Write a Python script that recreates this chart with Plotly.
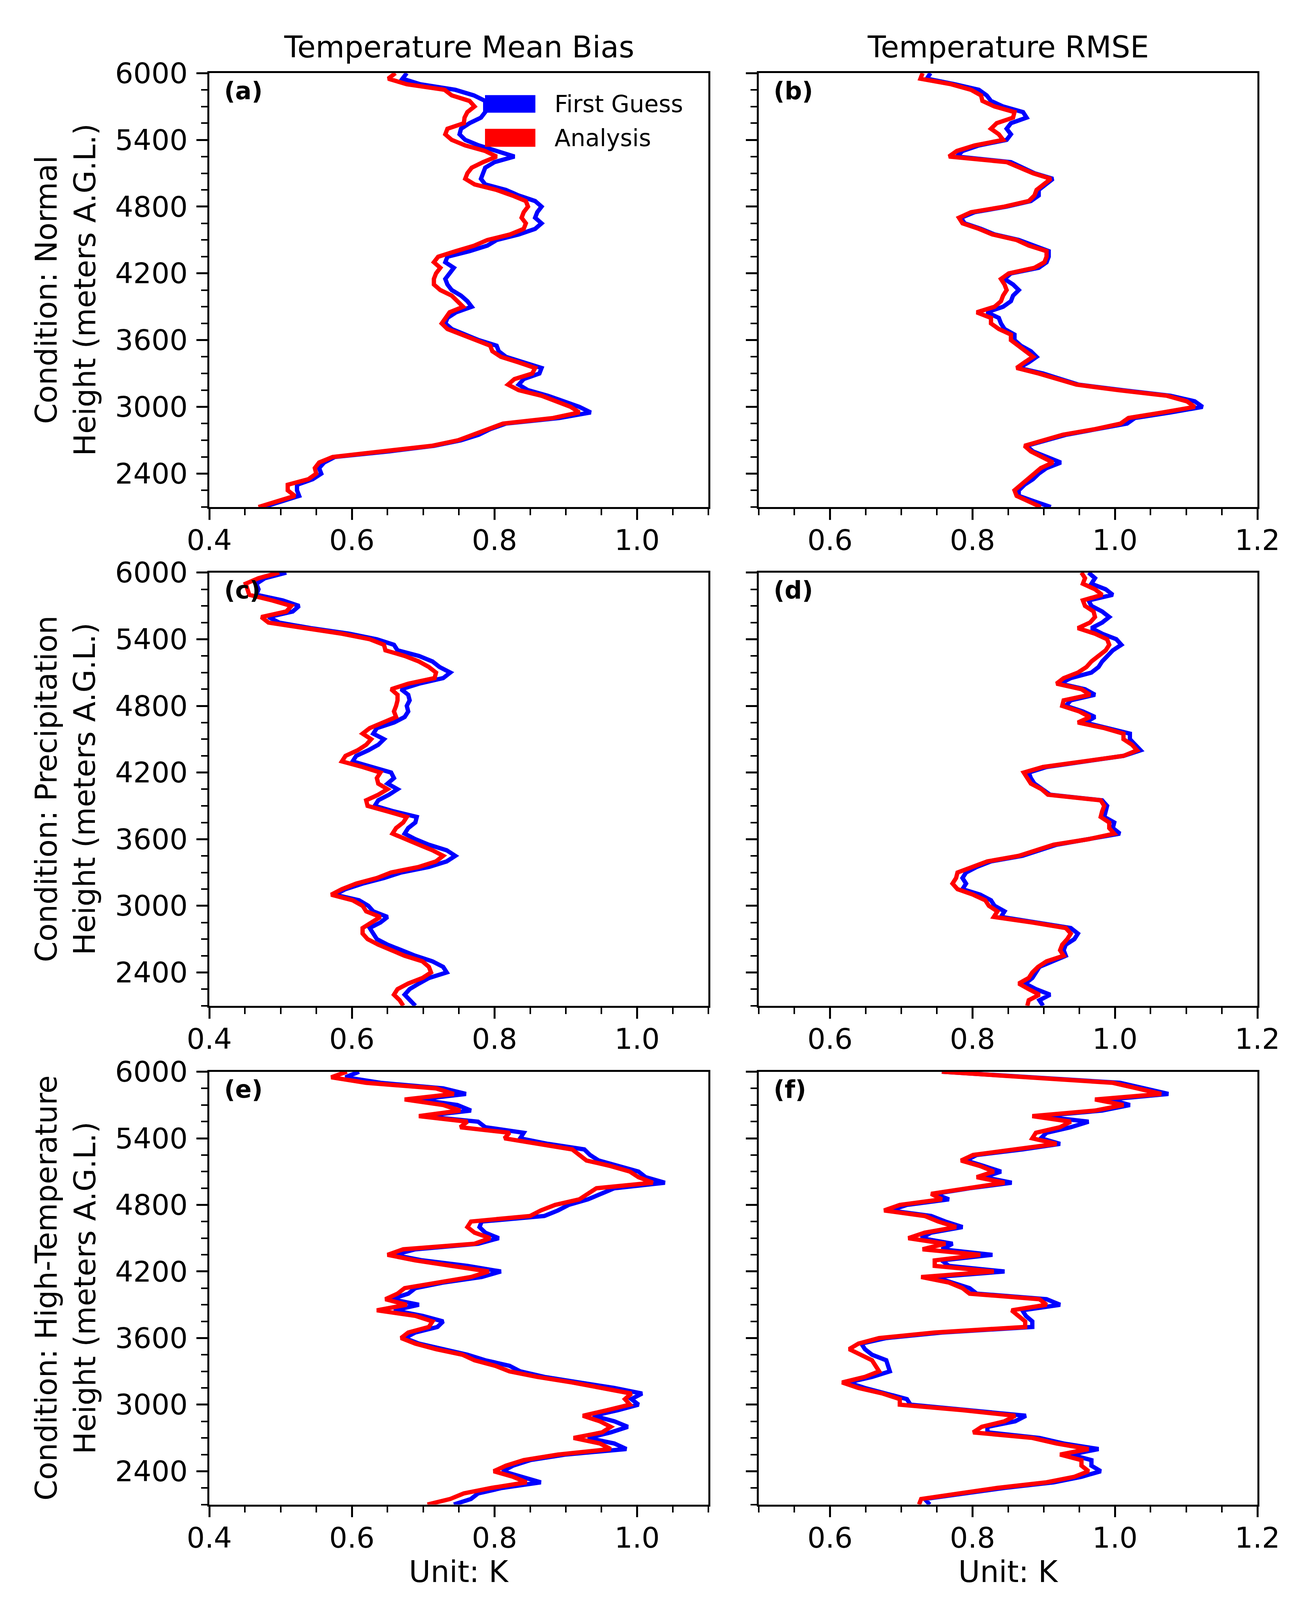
import plotly.graph_objects as go

# ---------------- data ----------------
HEIGHTS = [6000, 5950, 5900, 5850, 5800, 5750, 5700, 5650, 5600, 5550,
           5500, 5450, 5400, 5350, 5300, 5250, 5200, 5150, 5100, 5050,
           5000, 4950, 4900, 4850, 4800, 4750, 4700, 4650, 4600, 4550,
           4500, 4450, 4400, 4350, 4300, 4250, 4200, 4150, 4100, 4050,
           4000, 3950, 3900, 3850, 3800, 3750, 3700, 3650, 3600, 3550,
           3500, 3450, 3400, 3350, 3300, 3250, 3200, 3150, 3100, 3050,
           3000, 2950, 2900, 2850, 2800, 2750, 2700, 2650, 2600, 2550,
           2500, 2450, 2400, 2350, 2300, 2250, 2200, 2150, 2100]

# (a) Normal - mean bias
A_FG = [0.677, 0.671, 0.696, 0.745, 0.771, 0.787, 0.787, 0.787, 0.781, 0.765,
        0.753, 0.751, 0.759, 0.778, 0.803, 0.828, 0.800, 0.787, 0.784, 0.781,
        0.787, 0.816, 0.834, 0.857, 0.866, 0.860, 0.857, 0.866, 0.857, 0.834,
        0.803, 0.790, 0.765, 0.734, 0.731, 0.743, 0.737, 0.731, 0.734, 0.740,
        0.753, 0.762, 0.768, 0.746, 0.734, 0.731, 0.740, 0.759, 0.778, 0.803,
        0.806, 0.816, 0.841, 0.866, 0.863, 0.841, 0.834, 0.847, 0.875, 0.897,
        0.919, 0.935, 0.891, 0.816, 0.794, 0.778, 0.753, 0.715, 0.652, 0.576,
        0.561, 0.554, 0.557, 0.545, 0.523, 0.523, 0.526, 0.501, 0.476]
A_AN = [0.661, 0.651, 0.677, 0.730, 0.740, 0.765, 0.772, 0.762, 0.758, 0.757,
        0.734, 0.731, 0.740, 0.759, 0.787, 0.803, 0.784, 0.768, 0.762, 0.759,
        0.772, 0.803, 0.825, 0.844, 0.847, 0.841, 0.838, 0.844, 0.841, 0.822,
        0.790, 0.772, 0.746, 0.721, 0.715, 0.724, 0.718, 0.715, 0.715, 0.724,
        0.740, 0.749, 0.756, 0.737, 0.731, 0.726, 0.734, 0.753, 0.772, 0.794,
        0.797, 0.809, 0.834, 0.857, 0.853, 0.828, 0.819, 0.834, 0.866, 0.888,
        0.907, 0.919, 0.882, 0.812, 0.790, 0.772, 0.749, 0.712, 0.646, 0.573,
        0.554, 0.548, 0.550, 0.539, 0.510, 0.510, 0.520, 0.494, 0.469]

# (b) Normal - RMSE
B_FG = [0.741, 0.736, 0.775, 0.809, 0.820, 0.826, 0.843, 0.871, 0.876, 0.854,
        0.848, 0.854, 0.848, 0.809, 0.786, 0.778, 0.854, 0.871, 0.887, 0.913,
        0.904, 0.893, 0.893, 0.882, 0.848, 0.803, 0.784, 0.789, 0.812, 0.831,
        0.865, 0.885, 0.907, 0.907, 0.904, 0.893, 0.854, 0.845, 0.857, 0.865,
        0.857, 0.854, 0.843, 0.820, 0.837, 0.840, 0.845, 0.859, 0.859, 0.868,
        0.882, 0.890, 0.879, 0.865, 0.899, 0.924, 0.949, 1.011, 1.078, 1.112,
        1.123, 1.078, 1.028, 1.017, 0.977, 0.932, 0.904, 0.876, 0.885, 0.904,
        0.924, 0.904, 0.893, 0.885, 0.873, 0.865, 0.865, 0.887, 0.910]
B_AN = [0.730, 0.727, 0.770, 0.798, 0.812, 0.814, 0.831, 0.859, 0.857, 0.834,
        0.826, 0.837, 0.843, 0.803, 0.778, 0.767, 0.848, 0.865, 0.885, 0.910,
        0.899, 0.890, 0.887, 0.879, 0.845, 0.798, 0.781, 0.786, 0.809, 0.828,
        0.862, 0.879, 0.904, 0.904, 0.901, 0.887, 0.851, 0.840, 0.845, 0.848,
        0.843, 0.840, 0.831, 0.806, 0.826, 0.826, 0.837, 0.854, 0.854, 0.865,
        0.876, 0.885, 0.873, 0.862, 0.893, 0.918, 0.946, 1.005, 1.073, 1.101,
        1.112, 1.067, 1.019, 1.008, 0.972, 0.927, 0.899, 0.873, 0.882, 0.899,
        0.913, 0.896, 0.887, 0.879, 0.868, 0.859, 0.862, 0.879, 0.896]

# (c) Precipitation - mean bias
C_FG = [0.508, 0.478, 0.466, 0.469, 0.466, 0.503, 0.526, 0.517, 0.483, 0.498,
        0.542, 0.596, 0.635, 0.659, 0.664, 0.694, 0.713, 0.723, 0.738, 0.728,
        0.694, 0.669, 0.679, 0.681, 0.677, 0.679, 0.674, 0.659, 0.635, 0.630,
        0.645, 0.637, 0.623, 0.606, 0.601, 0.630, 0.655, 0.659, 0.650, 0.664,
        0.652, 0.637, 0.632, 0.659, 0.691, 0.689, 0.679, 0.674, 0.689, 0.708,
        0.733, 0.745, 0.733, 0.708, 0.669, 0.645, 0.615, 0.591, 0.576, 0.610,
        0.623, 0.630, 0.650, 0.640, 0.625, 0.630, 0.635, 0.650, 0.669, 0.689,
        0.713, 0.728, 0.733, 0.708, 0.694, 0.681, 0.674, 0.681, 0.689]
C_AN = [0.498, 0.469, 0.451, 0.454, 0.456, 0.488, 0.515, 0.508, 0.473, 0.483,
        0.532, 0.586, 0.625, 0.645, 0.647, 0.674, 0.694, 0.708, 0.718, 0.716,
        0.679, 0.655, 0.664, 0.664, 0.662, 0.659, 0.662, 0.645, 0.625, 0.615,
        0.627, 0.620, 0.608, 0.591, 0.586, 0.615, 0.640, 0.635, 0.637, 0.650,
        0.637, 0.620, 0.622, 0.650, 0.677, 0.672, 0.662, 0.657, 0.674, 0.694,
        0.713, 0.728, 0.718, 0.694, 0.655, 0.635, 0.606, 0.586, 0.571, 0.601,
        0.615, 0.620, 0.640, 0.627, 0.615, 0.615, 0.622, 0.637, 0.655, 0.674,
        0.699, 0.708, 0.711, 0.699, 0.679, 0.664, 0.659, 0.667, 0.672]

# (d) Precipitation - RMSE
D_FG = [0.963, 0.972, 0.967, 0.987, 0.997, 0.963, 0.967, 0.982, 0.992, 0.982,
        0.967, 0.982, 1.002, 1.009, 0.997, 0.989, 0.982, 0.977, 0.967, 0.938,
        0.923, 0.958, 0.972, 0.938, 0.931, 0.955, 0.972, 0.958, 0.992, 1.021,
        1.021, 1.029, 1.036, 1.012, 0.958, 0.904, 0.879, 0.882, 0.887, 0.899,
        0.909, 0.982, 0.989, 0.987, 0.985, 0.999, 0.997, 1.007, 0.963, 0.918,
        0.894, 0.870, 0.826, 0.806, 0.791, 0.786, 0.791, 0.786, 0.811, 0.826,
        0.831, 0.845, 0.840, 0.894, 0.938, 0.948, 0.943, 0.931, 0.928, 0.931,
        0.914, 0.894, 0.889, 0.884, 0.874, 0.889, 0.909, 0.894, 0.899]
D_AN = [0.953, 0.958, 0.955, 0.972, 0.982, 0.955, 0.958, 0.970, 0.972, 0.965,
        0.948, 0.972, 0.989, 0.992, 0.987, 0.977, 0.967, 0.960, 0.948, 0.928,
        0.918, 0.953, 0.965, 0.928, 0.926, 0.950, 0.965, 0.948, 0.985, 1.012,
        1.012, 1.024, 1.031, 1.012, 0.953, 0.899, 0.872, 0.877, 0.882, 0.897,
        0.906, 0.980, 0.985, 0.982, 0.980, 0.992, 0.992, 0.999, 0.963, 0.914,
        0.889, 0.865, 0.821, 0.801, 0.779, 0.777, 0.772, 0.779, 0.801, 0.818,
        0.823, 0.835, 0.830, 0.884, 0.931, 0.938, 0.933, 0.926, 0.923, 0.928,
        0.904, 0.892, 0.884, 0.879, 0.865, 0.879, 0.894, 0.879, 0.877]

# (e) High-Temperature - mean bias
E_FG = [0.610, 0.591, 0.640, 0.728, 0.760, 0.694, 0.748, 0.767, 0.699, 0.777,
        0.787, 0.841, 0.836, 0.875, 0.926, 0.934, 0.946, 0.973, 1.002, 1.012,
        1.039, 0.968, 0.948, 0.931, 0.904, 0.889, 0.870, 0.782, 0.779, 0.787,
        0.806, 0.777, 0.689, 0.659, 0.699, 0.762, 0.809, 0.782, 0.728, 0.689,
        0.679, 0.655, 0.694, 0.659, 0.699, 0.728, 0.720, 0.689, 0.674, 0.694,
        0.728, 0.762, 0.787, 0.821, 0.836, 0.870, 0.919, 0.968, 1.007, 0.992,
        1.002, 0.973, 0.938, 0.968, 0.987, 0.963, 0.931, 0.968, 0.985, 0.899,
        0.850, 0.826, 0.811, 0.838, 0.865, 0.811, 0.777, 0.767, 0.743]
E_AN = [0.593, 0.571, 0.620, 0.718, 0.743, 0.674, 0.728, 0.752, 0.694, 0.762,
        0.752, 0.821, 0.814, 0.865, 0.909, 0.919, 0.929, 0.963, 0.990, 1.002,
        1.022, 0.943, 0.931, 0.919, 0.885, 0.865, 0.850, 0.767, 0.762, 0.772,
        0.794, 0.772, 0.672, 0.650, 0.689, 0.743, 0.792, 0.767, 0.718, 0.674,
        0.664, 0.647, 0.677, 0.635, 0.689, 0.713, 0.708, 0.679, 0.669, 0.689,
        0.718, 0.755, 0.772, 0.801, 0.821, 0.860, 0.909, 0.953, 0.992, 0.983,
        0.990, 0.958, 0.924, 0.948, 0.963, 0.951, 0.911, 0.948, 0.963, 0.889,
        0.841, 0.816, 0.799, 0.826, 0.845, 0.796, 0.757, 0.738, 0.706]

# (f) High-Temperature - RMSE
F_FG = [0.757, 0.894, 1.007, 1.041, 1.075, 0.992, 1.021, 0.982, 0.894, 0.963,
        0.938, 0.904, 0.896, 0.923, 0.870, 0.806, 0.791, 0.816, 0.840, 0.816,
        0.855, 0.796, 0.747, 0.767, 0.708, 0.684, 0.742, 0.762, 0.786, 0.742,
        0.728, 0.772, 0.757, 0.828, 0.757, 0.767, 0.845, 0.747, 0.772, 0.796,
        0.806, 0.904, 0.923, 0.870, 0.875, 0.884, 0.884, 0.757, 0.679, 0.644,
        0.649, 0.659, 0.679, 0.681, 0.684, 0.659, 0.625, 0.649, 0.679, 0.708,
        0.713, 0.796, 0.875, 0.860, 0.821, 0.821, 0.894, 0.928, 0.977, 0.938,
        0.967, 0.967, 0.980, 0.953, 0.914, 0.845, 0.791, 0.733, 0.740]
F_AN = [0.757, 0.884, 0.997, 1.031, 1.065, 0.972, 1.012, 0.972, 0.884, 0.938,
        0.923, 0.889, 0.884, 0.918, 0.860, 0.801, 0.784, 0.811, 0.830, 0.806,
        0.845, 0.791, 0.742, 0.757, 0.698, 0.676, 0.733, 0.752, 0.777, 0.733,
        0.710, 0.762, 0.730, 0.811, 0.747, 0.747, 0.830, 0.728, 0.767, 0.786,
        0.796, 0.894, 0.904, 0.855, 0.865, 0.874, 0.874, 0.747, 0.669, 0.640,
        0.627, 0.644, 0.659, 0.664, 0.669, 0.649, 0.617, 0.640, 0.674, 0.698,
        0.698, 0.786, 0.860, 0.845, 0.813, 0.801, 0.884, 0.918, 0.963, 0.923,
        0.953, 0.953, 0.963, 0.943, 0.904, 0.835, 0.786, 0.728, 0.725]

SERIES_NAMES = ["First Guess", "Analysis"]
COLUMN_TITLES = ["Temperature Mean Bias", "Temperature RMSE"]
ROW_LABELS = ["Condition: Normal", "Condition: Precipitation", "Condition: High-Temperature"]
HEIGHT_LABEL = "Height (meters A.G.L.)"
UNIT_LABEL = "Unit: K"
PANEL_TAGS = ["(a)", "(b)", "(c)", "(d)", "(e)", "(f)"]

X_RANGES = [[0.4, 1.1], [0.5, 1.2]]
X_TICKS = [[0.4, 0.6, 0.8, 1.0], [0.6, 0.8, 1.0, 1.2]]
X_TICKTEXT = [["0.4", "0.6", "0.8", "1.0"], ["0.6", "0.8", "1.0", "1.2"]]
Y_RANGE = [2100, 6000]
Y_TICKS = [2400, 3000, 3600, 4200, 4800, 5400, 6000]
Y_TICKTEXT = ["2400", "3000", "3600", "4200", "4800", "5400", "6000"]

PANELS = [(A_FG, A_AN), (B_FG, B_AN), (C_FG, C_AN),
          (D_FG, D_AN), (E_FG, E_AN), (F_FG, F_AN)]

# ---------------- layout geometry ----------------
# positions measured on the 3306x4381 reference; the figure is made a bit
# shorter so that all of it fits inside the visible browser viewport.
W, H_REF = 3306, 4381
FIG_H = 4110
COL_X = [(528, 1806), (1935, 3212)]
ROW_Y = [(191, 1375), (1554, 2736), (2916, 4097)]
BLUE = "#0000ff"
RED = "#ff0000"
FONT = "DejaVu Sans"
TICK_SIZE = 73
LABEL_SIZE = 76


def px_x(x):
    return x / W


def px_y(y):
    return 1 - y / H_REF


def frange(a, b, step):
    out = []
    v = a
    while v <= b + 1e-9:
        out.append(round(v, 4))
        v += step
    return out


fig = go.Figure()
layout = dict(
    template="none",
    width=W, height=FIG_H,
    margin=dict(l=0, r=0, t=0, b=0, pad=0),
    paper_bgcolor="white", plot_bgcolor="white",
    showlegend=False,
    font=dict(family=FONT, color="black"),
)

annotations = []
shapes = []

for i, (fg, an) in enumerate(PANELS):
    r, c = divmod(i, 2)
    n = i + 1
    xname = "x" if n == 1 else f"x{n}"
    yname = "y" if n == 1 else f"y{n}"
    fig.add_trace(go.Scatter(x=fg, y=HEIGHTS, mode="lines", name=SERIES_NAMES[0],
                             line=dict(color=BLUE, width=11),
                             xaxis=xname, yaxis=yname, showlegend=False))
    fig.add_trace(go.Scatter(x=an, y=HEIGHTS, mode="lines", name=SERIES_NAMES[1],
                             line=dict(color=RED, width=11),
                             xaxis=xname, yaxis=yname, showlegend=False))
    x0, x1 = COL_X[c]
    y0, y1 = ROW_Y[r]
    xr = X_RANGES[c]
    minor_x = [v for v in frange(xr[0], xr[1], 0.05)
               if all(abs(v - t) > 1e-6 for t in X_TICKS[c])]
    minor_y = [v for v in range(Y_RANGE[0], Y_RANGE[1] + 1, 150) if v not in Y_TICKS]
    common = dict(showline=True, mirror=True, linecolor="black", linewidth=4.5,
                  ticks="outside", ticklen=28, tickwidth=4.5, tickcolor="black",
                  showgrid=False, zeroline=False, automargin=False,
                  tickfont=dict(size=TICK_SIZE, family=FONT, color="black"))
    layout["xaxis" if n == 1 else f"xaxis{n}"] = dict(
        domain=[px_x(x0), px_x(x1)], range=xr, anchor=yname,
        tickmode="array", tickvals=X_TICKS[c], ticktext=X_TICKTEXT[c],
        ticklabelstandoff=-10,
        minor=dict(tickmode="array", tickvals=minor_x, ticks="outside",
                   ticklen=16, tickwidth=4, tickcolor="black", showgrid=False),
        **common)
    layout["yaxis" if n == 1 else f"yaxis{n}"] = dict(
        domain=[px_y(y1), px_y(y0)], range=Y_RANGE, anchor=xname,
        tickmode="array", tickvals=Y_TICKS, ticktext=Y_TICKTEXT,
        showticklabels=(c == 0), ticklabelstandoff=8,
        minor=dict(tickmode="array", tickvals=minor_y, ticks="outside",
                   ticklen=16, tickwidth=4, tickcolor="black", showgrid=False),
        **common)
    annotations.append(dict(text=f"<b>{PANEL_TAGS[i]}</b>", xref="paper", yref="paper",
                            x=px_x(x0 + 36), y=px_y(y0 + 48), xanchor="left",
                            yanchor="middle", showarrow=False,
                            font=dict(size=62, family=FONT, color="black")))

for c in range(2):
    x0, x1 = COL_X[c]
    annotations.append(dict(text=COLUMN_TITLES[c], xref="paper", yref="paper",
                            x=px_x((x0 + x1) / 2), y=px_y(120), xanchor="center",
                            yanchor="middle", showarrow=False,
                            font=dict(size=LABEL_SIZE, family=FONT, color="black")))
    annotations.append(dict(text=UNIT_LABEL, xref="paper", yref="paper",
                            x=px_x((x0 + x1) / 2), y=px_y(4280), xanchor="center",
                            yanchor="middle", showarrow=False,
                            font=dict(size=LABEL_SIZE, family=FONT, color="black")))

for r in range(3):
    y0, y1 = ROW_Y[r]
    annotations.append(dict(text=f"{ROW_LABELS[r]}<br>{HEIGHT_LABEL}", xref="paper",
                            yref="paper", x=px_x(160), y=px_y((y0 + y1) / 2),
                            xanchor="center", yanchor="middle", textangle=-90,
                            showarrow=False,
                            font=dict(size=LABEL_SIZE, family=FONT, color="black")))

legend_items = [(SERIES_NAMES[0], BLUE, 251, 299, 275), (SERIES_NAMES[1], RED, 343, 392, 368)]
for name, color, ya, yb, yc in legend_items:
    shapes.append(dict(type="rect", xref="paper", yref="paper",
                       x0=px_x(1234), x1=px_x(1363), y0=px_y(yb), y1=px_y(ya),
                       fillcolor=color, line=dict(width=0)))
    annotations.append(dict(text=name, xref="paper", yref="paper",
                            x=px_x(1410), y=px_y(yc), xanchor="left", yanchor="middle",
                            showarrow=False,
                            font=dict(size=60, family=FONT, color="black")))

layout["annotations"] = annotations
layout["shapes"] = shapes
fig.update_layout(**layout)
fig.write_html("out.html")
